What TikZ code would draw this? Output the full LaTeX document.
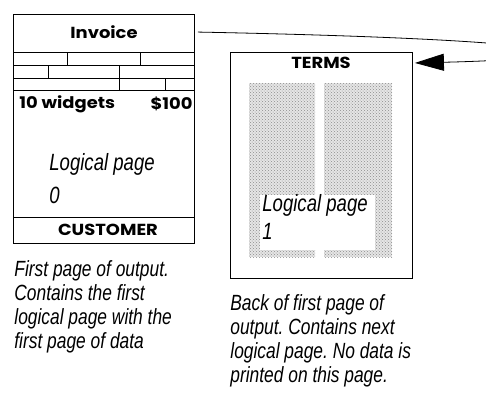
\documentclass[tikz,border=0pt]{standalone}
\usepackage{fontspec}
\setmainfont{Liberation Sans}[FakeStretch=0.79]
\newfontfamily\boxfont{Poppins}[FakeStretch=1.12]
\usetikzlibrary{positioning}
\usetikzlibrary{patterns}
\usetikzlibrary{arrows.meta}
\tikzset{>=latex}
\frenchspacing

\tikzset{
  page/.style={draw, line width=0.9pt, inner sep=0pt, anchor=north west},
  heading/.style={font=\boxfont\bfseries\fontsize{16}{18}\selectfont, inner sep=0pt},
  logical/.style={font=\itshape\fontsize{23.5}{#1}\selectfont, align=left, inner sep=0pt, anchor=base west},
  caption/.style={font=\itshape\fontsize{22}{24}\selectfont, align=left, inner sep=0pt, anchor=base west},
  stipple/.style={fill=gray!20, postaction={pattern=crosshatch dots, pattern color=gray!90}}
}

\begin{document}
\begin{tikzpicture}[x=1pt,y=-1pt,line width=0.8pt]

\useasboundingbox (0,0) rectangle (486,400);

% First page of output
\node[page, minimum width=181pt, minimum height=229pt] (front) at (13,14) {};
\node[heading] (invoice) at (104,32) {Invoice};

% Invoice grid
\draw (13,52) -- (194,52);
\draw (13,65) -- (194,65);
\draw (13,78) -- (194,78);
\draw (13,90) -- (194,90);
\draw (67,52) -- (67,65);
\draw (140,52) -- (140,65);
\draw (48,65) -- (48,78);
\draw (119,65) -- (119,90);
\draw (165,78) -- (165,90);

\node[heading, anchor=west] (widgets) at (19,104) {10 widgets};
\node[heading, anchor=east] (amount) at (193,104) {\$100};

% base anchor sits on the last line
\node[logical=33pt] (logzero) at (49,203) {Logical page\\0};

% Customer strip
\draw (13,217) -- (194,217);
\node[heading] (customer) at (108,230) {CUSTOMER};

% Back of first page
\node[page, minimum width=182pt, minimum height=226pt] (back) at (230,52) {};
\node[heading] (terms) at (321,63) {TERMS};

\fill[stipple] (249,83) rectangle (315,257);
\fill[stipple] (324,83) rectangle (392,257);
\fill[white] (260,195) rectangle (375,250);
\node[logical=28pt] (logone) at (262,239) {Logical page\\1};

% Captions
\node[caption] (frontcap) at (14,348) {First page of output.\\Contains the first\\logical page with the\\first page of data};
\node[caption] (backcap) at (230,382) {Back of first page of\\output. Contains next\\logical page. No data is\\printed on this page.};

% Turn-over arrow
\begin{scope}
\clip (0,0) rectangle (486,400);
\draw[-{Triangle[length=29pt,width=17pt]}, shorten <=3pt, shorten >=2pt]
  (front.east |- invoice) .. controls (600,40) and (620,58) .. (back.east |- terms);
\end{scope}

\end{tikzpicture}
\end{document}
